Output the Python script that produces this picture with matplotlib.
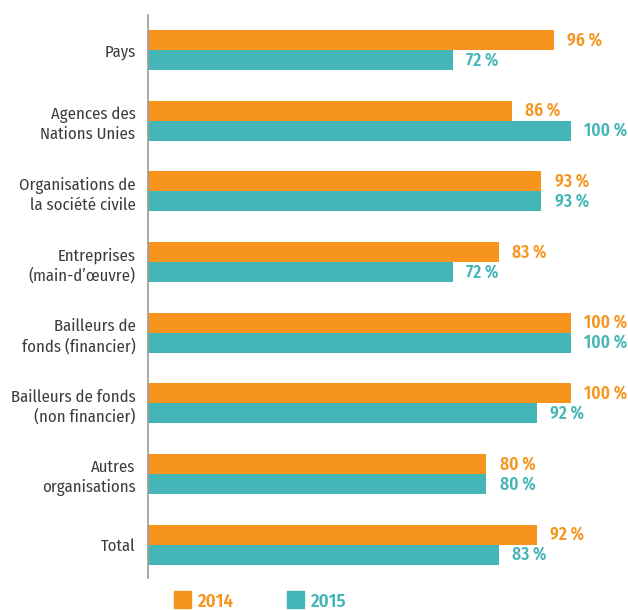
import matplotlib
matplotlib.use("Agg")
import matplotlib.pyplot as plt
import numpy as np

categories = [
    "Pays",
    "Agences des\nNations Unies",
    "Organisations de\nla société civile",
    "Entreprises\n(main-d\u2019œuvre)",
    "Bailleurs de\nfonds (financier)",
    "Bailleurs de fonds\n(non financier)",
    "Autres\norganisations",
    "Total",
]
values_2014 = [96, 86, 93, 83, 100, 100, 80, 92]
values_2015 = [72, 100, 93, 72, 100, 92, 80, 83]
years = ["2014", "2015"]

ORANGE = "#F7941D"
TEAL = "#45B6B8"
FONT = ["Fira Sans Condensed", "DejaVu Sans"]

W, H = 628, 610
fig = plt.figure(figsize=(W / 100, H / 100), dpi=100)
ax = fig.add_axes([148 / W, 1 - 578 / H, (571 - 148) / W, (578 - 15) / H])

y = np.arange(len(categories))
bh = 0.283
ax.barh(y - bh / 2, values_2014, height=bh, color=ORANGE, linewidth=0)
ax.barh(y + bh / 2, values_2015, height=bh, color=TEAL, linewidth=0)

ax.set_xlim(0, 100)
ax.set_ylim(7.47, -0.495)

for i, (a, b) in enumerate(zip(values_2014, values_2015)):
    ax.text(a + 3.1, i - bh / 2, f"{a} %", color=ORANGE, fontsize=12.5,
            fontweight=600, family=FONT, va="center", ha="left", clip_on=False)
    ax.text(b + 3.1, i + bh / 2, f"{b} %", color=TEAL, fontsize=12.5,
            fontweight=600, family=FONT, va="center", ha="left", clip_on=False)

ax.set_yticks(y)
ax.set_yticklabels(categories, family=FONT, fontsize=12, color="#3c3c3c",
                   fontweight=400, ha="right", linespacing=1.3)
ax.tick_params(axis="y", length=0, pad=9)
ax.set_xticks([])

for s in ["top", "right", "bottom"]:
    ax.spines[s].set_visible(False)
ax.spines["left"].set_color("#9a9a9a")
ax.spines["left"].set_linewidth(1.2)

# legend drawn as squares + text below the axis
for x0, col, lab in [(174, ORANGE, years[0]), (287, TEAL, years[1])]:
    fig.patches.append(plt.Rectangle((x0 / W, 1 - 608 / H), 17 / W, 17 / H,
                                     transform=fig.transFigure, color=col))
    fig.text((x0 + 23) / W, 1 - 602 / H, lab, color=col, fontsize=13.5,
             fontweight=600, family=FONT, va="center", ha="left")

fig.savefig("out.png", dpi=100)
